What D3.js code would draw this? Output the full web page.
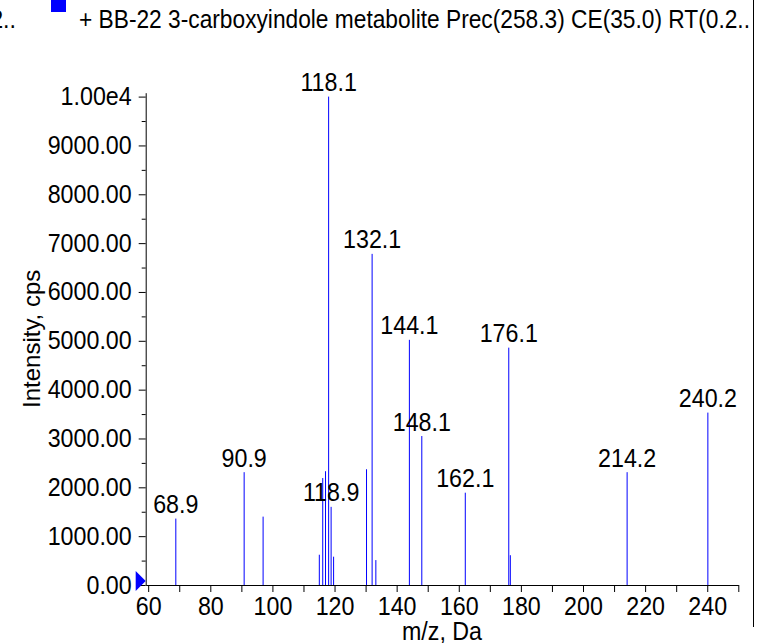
<!DOCTYPE html>
<html>
<head>
<meta charset="utf-8">
<script src="https://cdn.jsdelivr.net/npm/d3@7"></script>
<style>
  body { margin: 0; background: #fff; }
  text { font-family: "Liberation Sans", Arial, sans-serif; }
</style>
</head>
<body>
<svg id="chart"></svg>
<script>
// peaks
const mz = [68.9, 90.9, 97.0, 115.1, 116.2, 117.1, 118.1, 118.9, 119.7, 130.3, 132.1, 133.3,
            144.1, 148.1, 162.1, 176.1, 176.6, 214.2, 240.2];
const intensity = [1360, 2310, 1400, 620, 2190, 2330, 10000, 1600, 580, 2370, 6780, 510,
                   5020, 3050, 1890, 4860, 610, 2310, 3530];
const labelled = [68.9, 90.9, 118.1, 118.9, 132.1, 144.1, 148.1, 162.1, 176.1, 214.2, 240.2];

const xTicks = [60, 80, 100, 120, 140, 160, 180, 200, 220, 240];
const xMinor = [70, 90, 110, 130, 150, 170, 190, 210, 230, 250];
const yTicks = [0, 1000, 2000, 3000, 4000, 5000, 6000, 7000, 8000, 9000, 10000];
const yTickLabels = ["0.00", "1000.00", "2000.00", "3000.00", "4000.00", "5000.00",
                     "6000.00", "7000.00", "8000.00", "9000.00", "1.00e4"];
const yMinor = [500, 1500, 2500, 3500, 4500, 5500, 6500, 7500, 8500, 9500];

const legendPrev = "2..";
const legendText = "+ BB-22 3-carboxyindole metabolite Prec(258.3) CE(35.0) RT(0.2..";
const xTitle = "m/z, Da";
const yTitle = "Intensity, cps";

document.addEventListener("DOMContentLoaded", () => {
  drawChart();
});

function drawChart() {
  const width = 765, height = 643;
  const blue = "#0000ff";
  const fontSize = 25;
  const squeeze = 0.93; // glyphs in the picture are narrower than they are tall

  const svg = d3.select("#chart")
    .attr("width", width)
    .attr("height", height);

  const x = d3.scaleLinear().domain([59.2, 250]).range([145.7, 738.3]);
  const y = d3.scaleLinear().domain([0, 10080]).range([585, 92.7]);

  // axes
  const xAxis = svg.append("g")
    .attr("transform", `translate(0,${y(0)})`)
    .call(d3.axisBottom(x).tickValues(xTicks).tickSize(7).tickSizeOuter(0).tickPadding(5));
  svg.append("g")
    .attr("transform", `translate(0,${y(0)})`)
    .call(d3.axisBottom(x).tickValues(xMinor).tickSize(7).tickSizeOuter(0).tickFormat(""))
    .select(".domain").remove();

  const yAxis = svg.append("g")
    .attr("transform", `translate(${x.range()[0]},0)`)
    .call(d3.axisLeft(y).tickValues(yTicks).tickSize(7).tickSizeOuter(0).tickPadding(7)
      .tickFormat((d, i) => yTickLabels[i]));
  svg.append("g")
    .attr("transform", `translate(${x.range()[0]},0)`)
    .call(d3.axisLeft(y).tickValues(yMinor).tickSize(4).tickSizeOuter(0).tickFormat(""))
    .select(".domain").remove();

  svg.selectAll(".domain, .tick line").attr("stroke", "#000").attr("stroke-width", 1);
  svg.selectAll(".tick text").attr("font-size", fontSize).attr("fill", "#000")
    .attr("font-family", '"Liberation Sans", Arial, sans-serif');

  // origin marker
  const x0 = x.range()[0], y0 = y(0);
  svg.append("path")
    .attr("d", `M${x0 - 10},${y0 - 14}L${x0},${y0 - 4}L${x0 - 10},${y0 + 6}Z`)
    .attr("fill", blue);

  // sticks
  const peaks = mz.map((m, i) => ({ mz: m, value: intensity[i] }));
  svg.selectAll("line.peak")
    .data(peaks)
    .enter()
    .append("line")
    .attr("class", "peak")
    .attr("x1", d => x(d.mz))
    .attr("x2", d => x(d.mz))
    .attr("y1", y(0))
    .attr("y2", d => y(d.value))
    .attr("stroke", blue)
    .attr("stroke-width", 1);

  svg.selectAll("text.peak")
    .data(peaks.filter(d => labelled.includes(d.mz)))
    .enter()
    .append("text")
    .attr("class", "peak squeeze")
    .attr("x", d => x(d.mz))
    .attr("y", d => y(d.value) - 5.5)
    .attr("text-anchor", "middle")
    .attr("font-size", fontSize)
    .text(d => d.mz.toFixed(1));

  // axis titles
  svg.append("text")
    .attr("class", "squeeze")
    .attr("x", (x.range()[0] + x.range()[1]) / 2)
    .attr("y", 640)
    .attr("text-anchor", "middle")
    .attr("font-size", fontSize)
    .text(xTitle);

  svg.append("text")
    .attr("transform", `translate(40,${(y.range()[0] + y.range()[1]) / 2}) rotate(-90)`)
    .attr("text-anchor", "middle")
    .attr("font-size", 24)
    .text(yTitle);

  // legend strip at the top
  svg.append("text")
    .attr("class", "squeeze")
    .attr("x", 16)
    .attr("y", 28)
    .attr("text-anchor", "end")
    .attr("font-size", fontSize)
    .text(legendPrev);
  svg.append("rect")
    .attr("x", 51).attr("y", -2)
    .attr("width", 15).attr("height", 14)
    .attr("fill", blue);
  svg.append("text")
    .attr("x", 79)
    .attr("y", 28)
    .attr("font-size", fontSize)
    .attr("textLength", 671)
    .attr("lengthAdjust", "spacingAndGlyphs")
    .text(legendText);

  svg.append("line")
    .attr("x1", 753.5).attr("x2", 753.5)
    .attr("y1", 0).attr("y2", 627)
    .attr("stroke", "#000");

  xAxis.selectAll(".tick text").classed("squeeze", true);
  yAxis.selectAll(".tick text").classed("squeeze", true);

  svg.selectAll("text.squeeze").each(function () {
    const w = this.getComputedTextLength();
    d3.select(this)
      .attr("textLength", w * squeeze)
      .attr("lengthAdjust", "spacingAndGlyphs");
  });
}
</script>
</body>
</html>
